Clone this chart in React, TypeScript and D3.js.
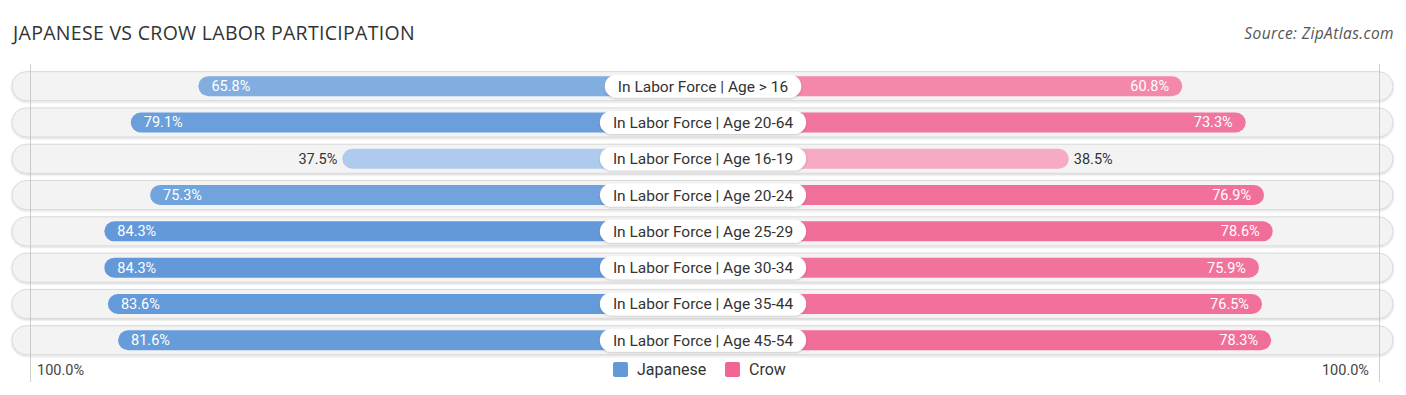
import React, { useEffect, useRef } from 'react';
import * as d3 from 'd3';

const categories = [
  'In Labor Force | Age > 16',
  'In Labor Force | Age 20-64',
  'In Labor Force | Age 16-19',
  'In Labor Force | Age 20-24',
  'In Labor Force | Age 25-29',
  'In Labor Force | Age 30-34',
  'In Labor Force | Age 35-44',
  'In Labor Force | Age 45-54',
];
const japanese = [65.8, 79.1, 37.5, 75.3, 84.3, 84.3, 83.6, 81.6];
const crow = [60.8, 73.3, 38.5, 76.9, 78.6, 75.9, 76.5, 78.3];
const seriesNames = ['Japanese', 'Crow'];
const axisLabel = '100.0%';

const W = 1406;
const H = 395;
const CX = 703;

const App = () => {
  const ref = useRef<SVGSVGElement>(null);

  useEffect(() => {
    const svg = d3.select(ref.current);
    svg.selectAll('*').remove();

    // bar length from centre line (bars start behind the label pill)
    const len = d3.scaleLinear().domain([0, 100]).range([170, 678.5]);
    const y = d3.scaleBand<number>()
      .domain(d3.range(categories.length))
      .range([68, 358.4])
      .paddingInner(0.2)
      .paddingOuter(0.1);

    const all = japanese.concat(crow);
    const t = d3.scaleLinear().domain([d3.min(all)!, d3.max(all)!]).range([0, 1]).clamp(true);
    const blue = d3.interpolateRgb('#aecbee', '#6399d9');
    const pink = d3.interpolateRgb('#f6abc4', '#f06592');

    const defs = svg.append('defs');
    const f = defs.append('filter').attr('id', 'sh').attr('x', '-10%').attr('y', '-30%').attr('width', '120%').attr('height', '170%');
    f.append('feDropShadow').attr('dx', 0).attr('dy', 1).attr('stdDeviation', 1.2).attr('flood-color', '#000').attr('flood-opacity', 0.18);

    // title + source
    svg.append('text')
      .attr('x', 13).attr('y', 40)
      .attr('font-family', '"Open Sans", sans-serif').attr('font-size', 19.5)
      .attr('letter-spacing', 0.3)
      .attr('fill', '#333')
      .text('JAPANESE VS CROW LABOR PARTICIPATION');
    svg.append('text')
      .attr('x', 1394).attr('y', 39)
      .attr('text-anchor', 'end')
      .attr('font-family', '"Open Sans", sans-serif').attr('font-size', 15.5)
      .attr('letter-spacing', 0.4)
      .attr('font-style', 'italic').attr('fill', '#555')
      .text('Source: ZipAtlas.com');

    const rowH = 29;
    const barH = 20;

    const rows = svg.append('g').selectAll('g').data(categories).join('g')
      .attr('transform', (_, i) => `translate(0,${y(i)! + y.bandwidth() / 2})`);

    rows.append('rect')
      .attr('x', 12).attr('y', -rowH / 2)
      .attr('width', 1381).attr('height', rowH)
      .attr('rx', rowH / 2)
      .attr('fill', '#f3f3f3').attr('stroke', '#dadada').attr('stroke-width', 1)
      .attr('filter', 'url(#sh)');

    // gridlines at 100%
    [CX - len(100) + 6, CX + len(100) - 2].forEach(x => {
      svg.append('line')
        .attr('x1', x).attr('x2', x).attr('y1', 64).attr('y2', 382)
        .attr('stroke', '#bbb').attr('stroke-width', 1).attr('opacity', 0.7);
    });

    const rows2 = svg.append('g').selectAll('g').data(categories).join('g')
      .attr('transform', (_, i) => `translate(0,${y(i)! + y.bandwidth() / 2})`);

    rows2.append('rect')
      .attr('x', (_, i) => CX - len(japanese[i]))
      .attr('y', -barH / 2)
      .attr('width', (_, i) => len(japanese[i]))
      .attr('height', barH).attr('rx', barH / 2)
      .attr('fill', (_, i) => blue(t(japanese[i])));
    rows2.append('rect')
      .attr('x', CX)
      .attr('y', -barH / 2)
      .attr('width', (_, i) => len(crow[i]))
      .attr('height', barH).attr('rx', barH / 2)
      .attr('fill', (_, i) => pink(t(crow[i])));

    const inside = (v: number) => v > 50;
    rows2.append('text')
      .attr('x', (_, i) => inside(japanese[i]) ? CX - len(japanese[i]) + 13 : CX - len(japanese[i]) - 5)
      .attr('y', 5)
      .attr('text-anchor', (_, i) => inside(japanese[i]) ? 'start' : 'end')
      .attr('font-family', 'Roboto, sans-serif').attr('font-size', 14.5)
      .attr('fill', (_, i) => inside(japanese[i]) ? '#fff' : '#333')
      .text((_, i) => japanese[i].toFixed(1) + '%');
    rows2.append('text')
      .attr('x', (_, i) => inside(crow[i]) ? CX + len(crow[i]) - 13 : CX + len(crow[i]) + 5)
      .attr('y', 5)
      .attr('text-anchor', (_, i) => inside(crow[i]) ? 'end' : 'start')
      .attr('font-family', 'Roboto, sans-serif').attr('font-size', 14.5)
      .attr('fill', (_, i) => inside(crow[i]) ? '#fff' : '#333')
      .text((_, i) => crow[i].toFixed(1) + '%');

    // centre label pills
    rows2.each(function (d) {
      const g = d3.select(this);
      const pill = g.append('rect').attr('fill', '#fff').attr('filter', 'url(#sh)');
      const txt = g.append('text')
        .attr('x', CX).attr('y', 5.5)
        .attr('text-anchor', 'middle')
        .attr('font-family', 'Roboto, sans-serif').attr('font-size', 15.5)
        .attr('fill', '#333')
        .text(d);
      const w = (txt.node() as SVGTextElement).getComputedTextLength() + 26;
      pill.attr('x', CX - w / 2).attr('y', -11.5).attr('width', w).attr('height', 23).attr('rx', 11.5);
    });

    // axis labels
    svg.append('text')
      .attr('x', 37).attr('y', 375)
      .attr('font-family', 'Roboto, sans-serif').attr('font-size', 14.5).attr('fill', '#444')
      .text(axisLabel);
    svg.append('text')
      .attr('x', 1369).attr('y', 375).attr('text-anchor', 'end')
      .attr('font-family', 'Roboto, sans-serif').attr('font-size', 14.5).attr('fill', '#444')
      .text(axisLabel);

    // legend
    const legend = [
      { name: seriesNames[0], color: '#6399d9', x: 613 },
      { name: seriesNames[1], color: '#f06592', x: 725 },
    ];
    const lg = svg.append('g').selectAll('g').data(legend).join('g')
      .attr('transform', d => `translate(${d.x},362)`);
    lg.append('rect').attr('width', 15).attr('height', 15).attr('rx', 2).attr('fill', d => d.color);
    lg.append('text')
      .attr('x', 24).attr('y', 13)
      .attr('font-family', 'Roboto, sans-serif').attr('font-size', 16).attr('fill', '#333')
      .text(d => d.name);
  }, []);

  return (
    <svg ref={ref} width={W} height={H}
      style={{ position: 'fixed', top: 0, left: 0, background: '#fff' }} />
  );
};

export default App;
